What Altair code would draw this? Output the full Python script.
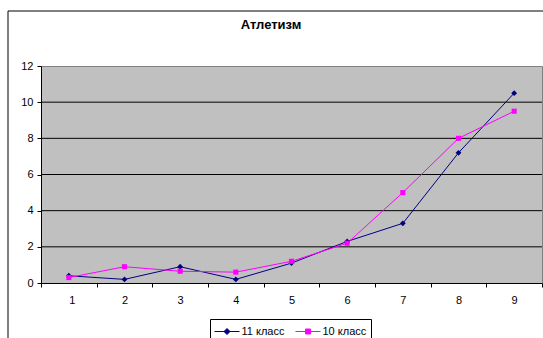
import altair as alt
import pandas as pd

categories = [1, 2, 3, 4, 5, 6, 7, 8, 9]
series_11 = [0.4, 0.2, 0.9, 0.2, 1.1, 2.3, 3.3, 7.2, 10.5]
series_10 = [0.3, 0.9, 0.65, 0.6, 1.2, 2.2, 5.0, 8.0, 9.5]
series_names = ["11 класс", "10 класс"]
series_colors = ["#000080", "#FF00FF"]
y_ticks = [0, 2, 4, 6, 8, 10, 12]
grid_values = [2, 4, 6, 8, 10]
x_tick_positions = [0.5, 1.5, 2.5, 3.5, 4.5, 5.5, 6.5, 7.5, 8.5, 9.5]
chart_title = "Атлетизм"

rows = []
for c, a, b in zip(categories, series_11, series_10):
    rows.append({"cat": c, "series": series_names[0], "value": a})
    rows.append({"cat": c, "series": series_names[1], "value": b})
df = pd.DataFrame(rows)
grid_df = pd.DataFrame({"g": grid_values})

W, H = 501, 217
FONT = "Liberation Sans"

xscale = alt.Scale(domain=[0.5, 9.5], nice=False, zero=False)
yscale = alt.Scale(domain=[0, 12], nice=False)
cscale = alt.Scale(domain=series_names, range=series_colors)

x_axis = alt.Axis(
    values=x_tick_positions,
    labelExpr="datum.value < 9 ? format(datum.value + 0.5, 'd') : ''",
    labelOffset=W / 18,
    grid=False, ticks=True, tickSize=4, tickColor="black",
    domainColor="black", labelColor="black", labelFont=FONT, labelFontSize=11,
    labelPadding=7, labelOverlap=False, title=None,
)
y_axis = alt.Axis(
    values=y_ticks, grid=False, ticks=True, tickSize=4, tickColor="black",
    domainColor="black", labelColor="black", labelFont=FONT, labelFontSize=11,
    labelPadding=4, labelOverlap=False, labelFlush=False, title=None,
)

X = alt.X("cat:Q", scale=xscale, axis=x_axis)
Y = alt.Y("value:Q", scale=yscale, axis=y_axis)

path11 = "M-1.67,0L1.67,0M0,-0.4L0.4,0L0,0.4L-0.4,0Z"
path10 = "M-1.67,0L1.67,0M-0.33,-0.33L0.33,-0.33L0.33,0.33L-0.33,0.33Z"

legend = alt.Legend(
    orient="none", legendX=169, legendY=253, direction="horizontal", title=None,
    strokeColor="black", fillColor="white", padding=4.5,
    labelFont=FONT, labelFontSize=11, labelColor="black", labelOffset=6.5,
    columnPadding=8, symbolSize=225, symbolOffset=4.5, symbolStrokeWidth=1, symbolOpacity=1,
)

grid = alt.Chart(grid_df).mark_rule(color="black", strokeWidth=1).encode(
    y=alt.Y("g:Q", scale=yscale, axis=y_axis),
)

lines = alt.Chart(df).mark_line(strokeWidth=1).encode(
    x=X, y=Y,
    color=alt.Color("series:N", scale=cscale, sort=series_names, legend=legend),
)

pts11 = alt.Chart(df).transform_filter(
    alt.datum.series == series_names[0]
).mark_point(filled=True, opacity=1, size=34, shape="diamond", color=series_colors[0]).encode(
    x=X, y=Y,
)
pts10 = alt.Chart(df).transform_filter(
    alt.datum.series == series_names[1]
).mark_point(filled=True, opacity=1, size=26, shape="square", color=series_colors[1]).encode(
    x=X, y=Y,
)

legend_layer = alt.Chart(df).transform_filter("datum.value < -100").mark_point(
    filled=True, opacity=1, strokeWidth=1
).encode(
    x=X, y=Y,
    color=alt.Color("series:N", scale=cscale, sort=series_names, legend=legend),
    stroke=alt.Stroke("series:N", scale=cscale, sort=series_names, legend=legend),
    shape=alt.Shape("series:N", scale=alt.Scale(domain=series_names, range=[path11, path10]),
                    sort=series_names, legend=legend),
)

border = alt.Chart(pd.DataFrame({"a": [0]})).mark_rect(
    fill=None, stroke="black", strokeWidth=1
).encode(
    x=alt.value(-33), x2=alt.value(W + 20), y=alt.value(-55), y2=alt.value(H + 80)
)

title = alt.Chart(pd.DataFrame({"t": [chart_title]})).mark_text(
    font=FONT, fontSize=13, fontWeight="bold", color="black", align="center", baseline="middle"
).encode(
    text="t:N", x=alt.value(230), y=alt.value(-41)
)

chart = alt.layer(grid, lines, pts11, pts10, legend_layer, border, title).properties(
    width=W, height=H,
    autosize=alt.AutoSizeParams(type="none"),
    padding={"left": 41, "top": 66, "right": 1, "bottom": 55},
    background="white",
).configure_view(
    fill="#C0C0C0", stroke="#808080", strokeWidth=1
)

chart.save("out.html", embed_options={"renderer": "svg", "actions": False})
